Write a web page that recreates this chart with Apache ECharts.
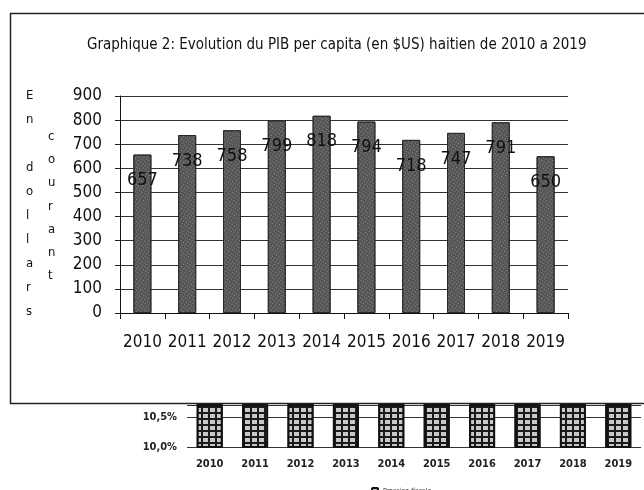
<!DOCTYPE html>
<html>
<head>
<meta charset="utf-8">
<script src="https://cdn.jsdelivr.net/npm/echarts@6/dist/echarts.min.js"></script>
<style>
  html, body { margin: 0; padding: 0; background: #fff; }
  #chart { width: 644px; height: 490px; }
</style>
</head>
<body>
<div id="chart"></div>
<script>
// Graphique 2 : PIB per capita haitien (en $US)
var annees = ['2010', '2011', '2012', '2013', '2014', '2015', '2016', '2017', '2018', '2019'];
var pib_par_tete = [657, 738, 758, 799, 818, 794, 718, 747, 791, 650];
var pib_ticks = [0, 100, 200, 300, 400, 500, 600, 700, 800, 900];

// graphique du dessous (coupé par le cadre) : pression fiscale en %
// les barres depassent le haut visible, valeurs estimees
var pression_fiscale = [11.6, 12.4, 12.9, 12.7, 12.8, 13.3, 13.6, 13.0, 12.5, 11.8];
var pression_ticks = [10.0, 10.5];

var police = "'Liberation Sans Narrow', 'DejaVu Sans Condensed', 'Open Sans', sans-serif";

var chart = echarts.init(document.getElementById('chart'));

var option = {
  animation: false,
  backgroundColor: '#fff',
  aria: { enabled: true, decal: { show: true } },
  title: {
    text: 'Graphique 2: Evolution du PIB per capita (en $US) haitien de 2010 a 2019',
    left: 82,
    top: 33,
    textStyle: { fontFamily: police, fontSize: 15, fontWeight: 'normal', color: '#111' }
  },
  legend: {
    data: ['Pression fiscale'],
    left: 366,
    top: 482,
    itemWidth: 6,
    itemHeight: 6,
    itemGap: 2,
    textStyle: { fontFamily: police, fontSize: 7, color: '#333' }
  },
  graphic: [
    // cadre du graphique principal
    {
      type: 'rect',
      shape: { x: 10.5, y: 13.5, width: 700, height: 390 },
      style: { fill: 'none', stroke: '#222', lineWidth: 1.5 },
      z: 10
    },
    {
      type: 'text',
      left: 26,
      top: 84,
      style: {
        text: 'E\nn\n\nd\no\nl\nl\na\nr\ns',
        fontFamily: police, fontSize: 13, lineHeight: 24,
        align: 'center', fill: '#111'
      }
    },
    {
      type: 'text',
      left: 48,
      top: 125,
      style: {
        text: 'c\no\nu\nr\na\nn\nt',
        fontFamily: police, fontSize: 13, lineHeight: 23.2,
        align: 'center', fill: '#111'
      }
    }
  ],
  grid: [
    { left: 120, right: 76, top: 96, bottom: 177 },
    { left: 187, right: 3, top: 405, bottom: 43 }
  ],
  xAxis: [
    {
      gridIndex: 0,
      type: 'category',
      data: annees,
      axisLine: { lineStyle: { color: '#111', width: 1 } },
      axisTick: { show: true, length: 6, lineStyle: { color: '#111' } },
      axisLabel: { interval: 0, fontFamily: police, fontSize: 17, color: '#111', margin: 21 }
    },
    {
      gridIndex: 1,
      type: 'category',
      data: annees,
      axisLine: { show: false },
      axisTick: { show: false },
      axisLabel: { interval: 0, fontFamily: police, fontSize: 11, fontWeight: 'bold', color: '#222', margin: 12 }
    }
  ],
  yAxis: [
    {
      gridIndex: 0,
      type: 'value',
      min: pib_ticks[0],
      max: pib_ticks[pib_ticks.length - 1],
      interval: 100,
      axisLine: { show: true, lineStyle: { color: '#111', width: 1 } },
      axisTick: { show: true, length: 5, lineStyle: { color: '#222' } },
      axisLabel: { fontFamily: police, fontSize: 17, color: '#111', margin: 18 },
      splitLine: { show: true, lineStyle: { color: '#333', width: 1 } }
    },
    {
      gridIndex: 1,
      type: 'value',
      min: pression_ticks[0],
      max: 10.7,
      interval: 0.5,
      axisLine: { show: false },
      axisTick: { show: false },
      axisLabel: {
        fontFamily: police, fontSize: 11, fontWeight: 'bold', color: '#222', margin: 10,
        showMaxLabel: false,
        formatter: function (v) { return v.toFixed(1).replace('.', ',') + '%'; }
      },
      splitLine: { show: true, lineStyle: { color: '#333', width: 1 } }
    }
  ],
  series: [
    {
      name: 'PIB per capita',
      type: 'bar',
      xAxisIndex: 0,
      yAxisIndex: 0,
      data: pib_par_tete,
      barWidth: 18,
      itemStyle: {
        color: '#555555',
        borderColor: '#2a2a2a',
        borderWidth: 1,
        decal: {
          symbol: 'rect', symbolSize: 1,
          dashArrayX: [1, 2], dashArrayY: [1, 2],
          color: 'rgba(255,255,255,0.35)', rotation: 0.6
        }
      },
      label: {
        show: true,
        position: 'insideTop',
        offset: [0, 12],
        fontFamily: police,
        fontSize: 18,
        color: '#111'
      },
      z: 2
    },
    {
      name: 'Pression fiscale',
      type: 'bar',
      xAxisIndex: 1,
      yAxisIndex: 1,
      data: pression_fiscale,
      barWidth: 26,
      itemStyle: {
        color: '#1a1a1a',
        borderColor: '#111',
        borderWidth: 2,
        decal: {
          symbol: 'rect', symbolSize: 1,
          dashArrayX: [5, 2], dashArrayY: [4, 2],
          color: '#c8c8c8'
        }
      }
    }
  ]
};

chart.setOption(option);
</script>
</body>
</html>
